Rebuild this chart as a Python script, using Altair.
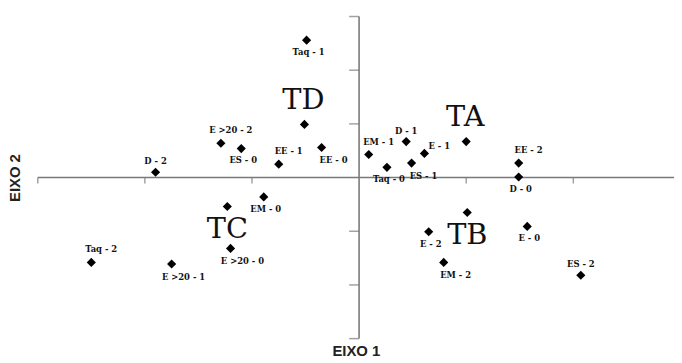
import altair as alt
import pandas as pd

# ---- data ----
names = ["Taq - 1", "TD", "E >20 - 2", "ES - 0", "EE - 1", "EE - 0", "D - 2",
         "EM - 1", "D - 1", "E - 1", "TA", "ES - 1", "Taq - 0", "EE - 2", "D - 0",
         "TC", "E >20 - 0", "EM - 0", "Taq - 2", "E >20 - 1", "E - 2", "EM - 2",
         "TB", "E - 0", "ES - 2"]
eixo1 = [-0.49, -0.51, -1.29, -1.10, -0.75, -0.35, -1.90,
         0.09, 0.44, 0.61, 1.00, 0.49, 0.26, 1.49, 1.49,
         -1.23, -1.20, -0.89, -2.50, -1.75, 0.65, 0.79,
         1.01, 1.57, 2.07]
eixo2 = [2.56, 0.99, 0.64, 0.54, 0.25, 0.56, 0.10,
         0.43, 0.67, 0.45, 0.67, 0.27, 0.19, 0.27, 0.01,
         -0.54, -1.32, -0.36, -1.58, -1.61, -1.01, -1.58,
         -0.65, -0.91, -1.82]
label_side = ["S", "N", "NE", "S", "NE", "SE", "N",
              "NE", "N", "E", "N", "SE", "S", "NE", "S",
              "S", "SE", "S", "NE", "SE", "S", "SE",
              "S", "S", "N"]
groups = ["TA", "TB", "TC", "TD"]

x_ticks = [-3, -2, -1, 1, 2]
y_ticks = [-3, -2, -1, 1, 2, 3]
x_extent = [-3, 2.94]
y_extent = [-3, 3]

df = pd.DataFrame({"name": names, "eixo1": eixo1, "eixo2": eixo2, "side": label_side})
df["grupo"] = df["name"].isin(groups)

xscale = alt.Scale(domain=x_extent, nice=False, zero=False)
yscale = alt.Scale(domain=y_extent, nice=False, zero=False)
title_font = "Liberation Sans"
xaxis = alt.Axis(title="EIXO 1", labels=False, ticks=False, domain=False, grid=False,
                 titleFont=title_font, titleFontSize=15, titleFontWeight="bold",
                 titleColor="#222", titlePadding=5)
yaxis = alt.Axis(title="EIXO 2", labels=False, ticks=False, domain=False, grid=False,
                 titleFont=title_font, titleFontSize=15, titleFontWeight="bold",
                 titleColor="#222", titlePadding=15)


def X(field):
    return alt.X(field, type="quantitative", scale=xscale, axis=xaxis)


def Y(field):
    return alt.Y(field, type="quantitative", scale=yscale, axis=yaxis)


axis_color = "#7a7a7a"
hrule = alt.Chart(pd.DataFrame({"a": [x_extent[0]], "b": [x_extent[1]], "c": [0]})).mark_rule(
    color=axis_color, strokeWidth=1.6).encode(x=X("a"), x2="b", y=Y("c"))
vrule = alt.Chart(pd.DataFrame({"a": [0], "b": [y_extent[0]], "c": [y_extent[1]]})).mark_rule(
    color=axis_color, strokeWidth=1.6).encode(x=X("a"), y=Y("b"), y2="c")

xt = alt.Chart(pd.DataFrame({"a": x_ticks, "c": [0] * len(x_ticks)})).mark_tick(
    orient="vertical", size=6, thickness=1.5, yOffset=3, color=axis_color).encode(x=X("a"), y=Y("c"))
yt = alt.Chart(pd.DataFrame({"a": [0] * len(y_ticks), "c": y_ticks})).mark_tick(
    orient="horizontal", size=10, thickness=1.5, xOffset=-5, color=axis_color).encode(x=X("a"), y=Y("c"))

base = alt.Chart(df)
points = base.mark_point(shape="diamond", filled=True, size=85, color="black", opacity=1).encode(
    x=X("eixo1"), y=Y("eixo2"))

offsets = {"S": (2, 12), "SE": (12, 13), "N": (0, -11), "NE": (10, -13), "E": (15, -7)}
small_layers = []
for side, (dx, dy) in offsets.items():
    small_layers.append(
        base.transform_filter((alt.datum.side == side) & (~alt.datum.grupo)).mark_text(
            font="DejaVu Serif", fontWeight="bold", fontSize=8.5, color="#111", dx=dx, dy=dy
        ).encode(x=X("eixo1"), y=Y("eixo2"), text="name:N")
    )

big_offsets = {"N": (-1, -25), "S": (0, 23)}
big_layers = []
for side, (dx, dy) in big_offsets.items():
    big_layers.append(
        base.transform_filter((alt.datum.side == side) & alt.datum.grupo).mark_text(
            font="DejaVu Serif", fontSize=29, color="#111", dx=dx, dy=dy
        ).encode(x=X("eixo1"), y=Y("eixo2"), text="name:N")
    )

chart = alt.layer(hrule, vrule, xt, yt, points, *small_layers, *big_layers).properties(
    width=642, height=325,
    background="white",
    autosize=alt.AutoSizeParams(type="none"),
    padding={"left": 30, "top": 7, "right": 0, "bottom": 22},
).configure_view(strokeWidth=0, stroke="transparent")

chart.save("out.html", embed_options={"renderer": "svg", "actions": False})
